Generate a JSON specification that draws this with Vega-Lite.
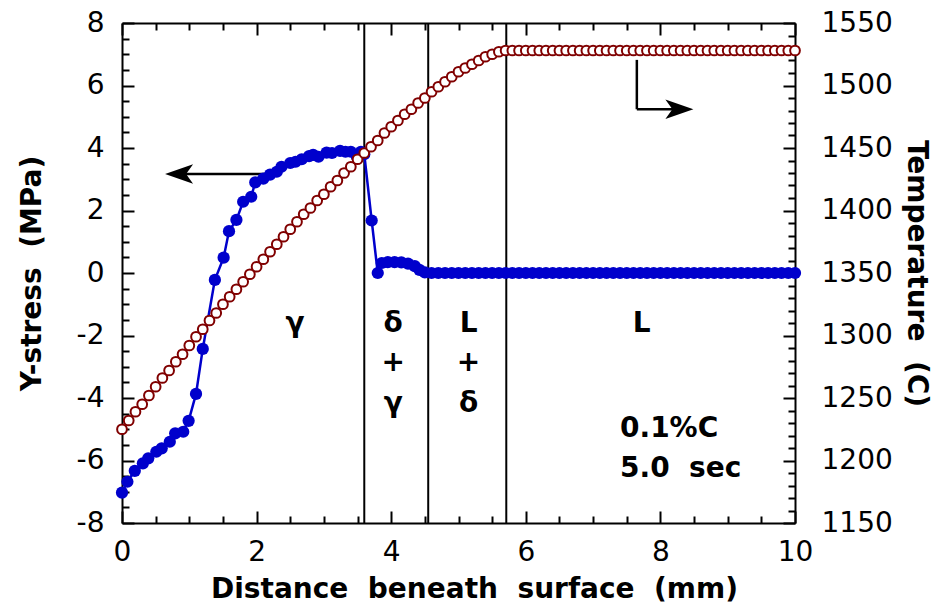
{
  "$schema": "https://vega.github.io/schema/vega-lite/v6.json",
  "width": 673,
  "height": 500,
  "autosize": {"type": "none"},
  "padding": {"left": 122, "top": 23, "right": 143, "bottom": 92},
  "background": "white",
  "config": {
    "view": {"stroke": null},
    "font": "DejaVu Sans",
    "axis": {
      "domainColor": "black", "domainWidth": 2, "tickColor": "black", "tickWidth": 2,
      "labelFont": "DejaVu Sans", "labelFontSize": 28, "labelColor": "black",
      "titleFont": "DejaVu Sans", "titleFontSize": 28, "titleFontWeight": "bold", "titleColor": "black",
      "grid": false, "labelFlush": false, "labelOverlap": false
    }
  },
  "datasets": {
    "temp": [
      {"d":0.0,"T":1225},{"d":0.1,"T":1232},{"d":0.2,"T":1239},{"d":0.3,"T":1245},{"d":0.4,"T":1252},
      {"d":0.5,"T":1259},{"d":0.6,"T":1266},{"d":0.7,"T":1272},{"d":0.8,"T":1279},{"d":0.9,"T":1285},
      {"d":1.0,"T":1292},{"d":1.1,"T":1299},{"d":1.2,"T":1305},{"d":1.3,"T":1312},{"d":1.4,"T":1318},
      {"d":1.5,"T":1325},{"d":1.6,"T":1331},{"d":1.7,"T":1337},{"d":1.8,"T":1343},{"d":1.9,"T":1349},
      {"d":2.0,"T":1355},{"d":2.1,"T":1361},{"d":2.2,"T":1367},{"d":2.3,"T":1373},{"d":2.4,"T":1379},
      {"d":2.5,"T":1385},{"d":2.6,"T":1391},{"d":2.7,"T":1397},{"d":2.8,"T":1402},{"d":2.9,"T":1408},
      {"d":3.0,"T":1413},{"d":3.1,"T":1419},{"d":3.2,"T":1424},{"d":3.3,"T":1430},{"d":3.4,"T":1435},
      {"d":3.5,"T":1441},{"d":3.6,"T":1446},{"d":3.7,"T":1451},{"d":3.8,"T":1456},{"d":3.9,"T":1462},
      {"d":4.0,"T":1467},{"d":4.1,"T":1472},{"d":4.2,"T":1477},{"d":4.3,"T":1481},{"d":4.4,"T":1486},
      {"d":4.5,"T":1490},{"d":4.6,"T":1495},{"d":4.7,"T":1499},{"d":4.8,"T":1503},{"d":4.9,"T":1507},
      {"d":5.0,"T":1511},{"d":5.1,"T":1514},{"d":5.2,"T":1517},{"d":5.3,"T":1520},{"d":5.4,"T":1523},
      {"d":5.5,"T":1525},{"d":5.6,"T":1527},{"d":5.7,"T":1528},{"d":5.8,"T":1528},{"d":5.9,"T":1528},
      {"d":6.0,"T":1528},{"d":6.1,"T":1528},{"d":6.2,"T":1528},{"d":6.3,"T":1528},{"d":6.4,"T":1528},
      {"d":6.5,"T":1528},{"d":6.6,"T":1528},{"d":6.7,"T":1528},{"d":6.8,"T":1528},{"d":6.9,"T":1528},
      {"d":7.0,"T":1528},{"d":7.1,"T":1528},{"d":7.2,"T":1528},{"d":7.3,"T":1528},{"d":7.4,"T":1528},
      {"d":7.5,"T":1528},{"d":7.6,"T":1528},{"d":7.7,"T":1528},{"d":7.8,"T":1528},{"d":7.9,"T":1528},
      {"d":8.0,"T":1528},{"d":8.1,"T":1528},{"d":8.2,"T":1528},{"d":8.3,"T":1528},{"d":8.4,"T":1528},
      {"d":8.5,"T":1528},{"d":8.6,"T":1528},{"d":8.7,"T":1528},{"d":8.8,"T":1528},{"d":8.9,"T":1528},
      {"d":9.0,"T":1528},{"d":9.1,"T":1528},{"d":9.2,"T":1528},{"d":9.3,"T":1528},{"d":9.4,"T":1528},
      {"d":9.5,"T":1528},{"d":9.6,"T":1528},{"d":9.7,"T":1528},{"d":9.8,"T":1528},{"d":9.9,"T":1528},
      {"d":10.0,"T":1528}
    ],
    "stress": [
      {"d":0.00,"s":-7.03},{"d":0.08,"s":-6.68},{"d":0.19,"s":-6.33},{"d":0.31,"s":-6.09},{"d":0.39,"s":-5.93},
      {"d":0.51,"s":-5.72},{"d":0.59,"s":-5.61},{"d":0.71,"s":-5.40},{"d":0.79,"s":-5.13},{"d":0.91,"s":-5.08},
      {"d":0.99,"s":-4.73},{"d":1.10,"s":-3.87},{"d":1.20,"s":-2.43},{"d":1.38,"s":-0.22},{"d":1.51,"s":0.49},
      {"d":1.59,"s":1.34},{"d":1.70,"s":1.70},{"d":1.80,"s":2.28},{"d":1.92,"s":2.44},{"d":1.98,"s":2.90},
      {"d":2.10,"s":3.02},{"d":2.20,"s":3.15},{"d":2.30,"s":3.24},{"d":2.37,"s":3.40},{"d":2.50,"s":3.52},
      {"d":2.58,"s":3.56},{"d":2.67,"s":3.64},{"d":2.78,"s":3.74},{"d":2.84,"s":3.78},{"d":2.92,"s":3.72},
      {"d":3.04,"s":3.85},{"d":3.12,"s":3.84},{"d":3.24,"s":3.91},{"d":3.32,"s":3.88},{"d":3.40,"s":3.88},
      {"d":3.49,"s":3.72},{"d":3.55,"s":3.88},{"d":3.60,"s":3.80},{"d":3.71,"s":1.68},{"d":3.80,"s":0.00},
      {"d":3.86,"s":0.32},{"d":3.95,"s":0.35},{"d":4.05,"s":0.35},{"d":4.15,"s":0.34},{"d":4.25,"s":0.30},
      {"d":4.35,"s":0.22},{"d":4.42,"s":0.10},{"d":4.50,"s":0.02},{"d":4.6,"s":0},{"d":4.7,"s":0},
      {"d":4.8,"s":0},{"d":4.9,"s":0},{"d":5.0,"s":0},{"d":5.1,"s":0},{"d":5.2,"s":0},
      {"d":5.3,"s":0},{"d":5.4,"s":0},{"d":5.5,"s":0},{"d":5.6,"s":0},{"d":5.7,"s":0},
      {"d":5.8,"s":0},{"d":5.9,"s":0},{"d":6.0,"s":0},{"d":6.1,"s":0},{"d":6.2,"s":0},
      {"d":6.3,"s":0},{"d":6.4,"s":0},{"d":6.5,"s":0},{"d":6.6,"s":0},{"d":6.7,"s":0},
      {"d":6.8,"s":0},{"d":6.9,"s":0},{"d":7.0,"s":0},{"d":7.1,"s":0},{"d":7.2,"s":0},
      {"d":7.3,"s":0},{"d":7.4,"s":0},{"d":7.5,"s":0},{"d":7.6,"s":0},{"d":7.7,"s":0},
      {"d":7.8,"s":0},{"d":7.9,"s":0},{"d":8.0,"s":0},{"d":8.1,"s":0},{"d":8.2,"s":0},
      {"d":8.3,"s":0},{"d":8.4,"s":0},{"d":8.5,"s":0},{"d":8.6,"s":0},{"d":8.7,"s":0},
      {"d":8.8,"s":0},{"d":8.9,"s":0},{"d":9.0,"s":0},{"d":9.1,"s":0},{"d":9.2,"s":0},
      {"d":9.3,"s":0},{"d":9.4,"s":0},{"d":9.5,"s":0},{"d":9.6,"s":0},{"d":9.7,"s":0},
      {"d":9.8,"s":0},{"d":9.9,"s":0},{"d":10.0,"s":0}
    ],
    "phases": [{"d":3.6},{"d":4.55},{"d":5.71}],
    "labels": [
      {"d":2.57,"s":-1.9,"t":"γ"},
      {"d":4.03,"s":-1.9,"t":"δ"},
      {"d":4.03,"s":-3.15,"t":"+"},
      {"d":4.03,"s":-4.45,"t":"γ"},
      {"d":5.15,"s":-1.9,"t":"L"},
      {"d":5.15,"s":-3.15,"t":"+"},
      {"d":5.15,"s":-4.45,"t":"δ"},
      {"d":7.72,"s":-1.9,"t":"L"}
    ],
    "notes": [
      {"d":7.4,"s":-5.24,"t":"0.1%C"},
      {"d":7.4,"s":-6.52,"t":"5.0 \u00a0sec"}
    ],
    "shafts": [
      {"d":0.75,"d2":2.3,"s":3.17,"s2":3.17},
      {"d":7.65,"d2":7.65,"s":6.82,"s2":5.24},
      {"d":7.65,"d2":8.3,"s":5.24,"s2":5.24}
    ],
    "heads": [
      {"d":0.64,"s":3.17,"dir":"left"},
      {"d":8.49,"s":5.24,"dir":"right"}
    ]
  },
  "resolve": {"scale": {"y": "independent"}, "axis": {"x": "independent", "y": "independent"}},
  "layer": [
    {
      "mark": {"type": "rule", "color": "#cc0000", "strokeDash": [6, 5], "strokeWidth": 2},
      "encoding": {
        "y": {
          "datum": 0, "type": "quantitative",
          "scale": {"domain": [-8, 8], "nice": false, "zero": false},
          "axis": {
            "orient": "left",
            "values": [-8,-7.5,-7,-6.5,-6,-5.5,-5,-4.5,-4,-3.5,-3,-2.5,-2,-1.5,-1,-0.5,0,0.5,1,1.5,2,2.5,3,3.5,4,4.5,5,5.5,6,6.5,7,7.5,8],
            "tickSize": {"condition": {"test": "datum.value % 2 === 0", "value": -12}, "value": -7},
            "labelExpr": "datum.value % 2 === 0 ? '' + datum.value : ''",
            "labelPadding": 30,
            "title": "Y-stress \u00a0(MPa)",
            "titlePadding": 30
          }
        }
      }
    },
    {
      "data": {"name": "phases"},
      "mark": {"type": "rule", "color": "black", "strokeWidth": 2},
      "encoding": {
        "x": {
          "field": "d", "type": "quantitative",
          "scale": {"domain": [0, 10], "nice": false, "zero": false},
          "axis": {
            "orient": "bottom",
            "values": [0,0.5,1,1.5,2,2.5,3,3.5,4,4.5,5,5.5,6,6.5,7,7.5,8,8.5,9,9.5,10],
            "tickSize": {"condition": {"test": "datum.value % 2 === 0", "value": -12}, "value": -7},
            "labelExpr": "datum.value % 2 === 0 ? '' + datum.value : ''",
            "labelPadding": 27,
            "title": "Distance \u00a0beneath \u00a0surface \u00a0(mm)",
            "titlePadding": 4,
            "titleX": 352
          }
        }
      }
    },
    {
      "data": {"name": "shafts"},
      "mark": {"type": "rule", "color": "black", "strokeWidth": 2.5},
      "encoding": {
        "x": {"field": "d", "type": "quantitative", "scale": {"domain": [0, 10], "nice": false, "zero": false}, "axis": null},
        "x2": {"field": "d2"},
        "y": {"field": "s", "type": "quantitative", "scale": {"domain": [-8, 8], "nice": false, "zero": false}, "axis": null},
        "y2": {"field": "s2"}
      }
    },
    {
      "data": {"name": "heads"},
      "mark": {"type": "point", "filled": true, "color": "black", "size": 784, "opacity": 1},
      "encoding": {
        "x": {"field": "d", "type": "quantitative", "scale": {"domain": [0, 10], "nice": false, "zero": false}, "axis": null},
        "y": {"field": "s", "type": "quantitative", "scale": {"domain": [-8, 8], "nice": false, "zero": false}, "axis": null},
        "shape": {
          "field": "dir", "type": "nominal", "legend": null,
          "scale": {"domain": ["left", "right"], "range": ["M0,0L2,-0.7L1.5,0L2,0.7Z", "M0,0L-2,-0.7L-1.5,0L-2,0.7Z"]}
        }
      }
    },
    {
      "data": {"name": "stress"},
      "mark": {"type": "line", "color": "#0000cc", "strokeWidth": 2.5, "point": {"filled": true, "size": 150, "color": "#0000cc", "opacity": 1}},
      "encoding": {
        "x": {
          "field": "d", "type": "quantitative",
          "scale": {"domain": [0, 10], "nice": false, "zero": false},
          "axis": {
            "orient": "top",
            "values": [0,0.5,1,1.5,2,2.5,3,3.5,4,4.5,5,5.5,6,6.5,7,7.5,8,8.5,9,9.5,10],
            "tickSize": {"condition": {"test": "datum.value % 2 === 0", "value": -12}, "value": -7},
            "labels": false,
            "title": null
          }
        },
        "y": {"field": "s", "type": "quantitative", "scale": {"domain": [-8, 8], "nice": false, "zero": false}, "axis": null}
      }
    },
    {
      "data": {"name": "temp"},
      "mark": {"type": "point", "shape": "circle", "filled": true, "fill": "white", "stroke": "#800000", "strokeWidth": 2, "size": 95, "opacity": 1},
      "encoding": {
        "x": {"field": "d", "type": "quantitative", "scale": {"domain": [0, 10], "nice": false, "zero": false}, "axis": null},
        "y": {
          "field": "T", "type": "quantitative",
          "scale": {"domain": [1150, 1550], "nice": false, "zero": false},
          "axis": {
            "orient": "right",
            "values": [1150,1160,1170,1180,1190,1200,1210,1220,1230,1240,1250,1260,1270,1280,1290,1300,1310,1320,1330,1340,1350,1360,1370,1380,1390,1400,1410,1420,1430,1440,1450,1460,1470,1480,1490,1500,1510,1520,1530,1540,1550],
            "tickSize": {"condition": {"test": "datum.value % 50 === 0", "value": -12}, "value": -7},
            "labelExpr": "datum.value % 50 === 0 ? '' + datum.value : ''",
            "labelPadding": 38,
            "title": "Temperature \u00a0(C)",
            "titleAngle": 90,
            "titlePadding": 9
          }
        }
      }
    },
    {
      "data": {"name": "labels"},
      "mark": {"type": "text", "fontSize": 28, "fontWeight": "bold", "font": "DejaVu Sans", "color": "black", "baseline": "alphabetic", "align": "center"},
      "encoding": {
        "x": {"field": "d", "type": "quantitative", "scale": {"domain": [0, 10], "nice": false, "zero": false}, "axis": null},
        "y": {"field": "s", "type": "quantitative", "scale": {"domain": [-8, 8], "nice": false, "zero": false}, "axis": null},
        "text": {"field": "t"}
      }
    },
    {
      "data": {"name": "notes"},
      "mark": {"type": "text", "fontSize": 28, "fontWeight": "bold", "font": "DejaVu Sans", "color": "black", "baseline": "alphabetic", "align": "left"},
      "encoding": {
        "x": {"field": "d", "type": "quantitative", "scale": {"domain": [0, 10], "nice": false, "zero": false}, "axis": null},
        "y": {"field": "s", "type": "quantitative", "scale": {"domain": [-8, 8], "nice": false, "zero": false}, "axis": null},
        "text": {"field": "t"}
      }
    }
  ]
}
